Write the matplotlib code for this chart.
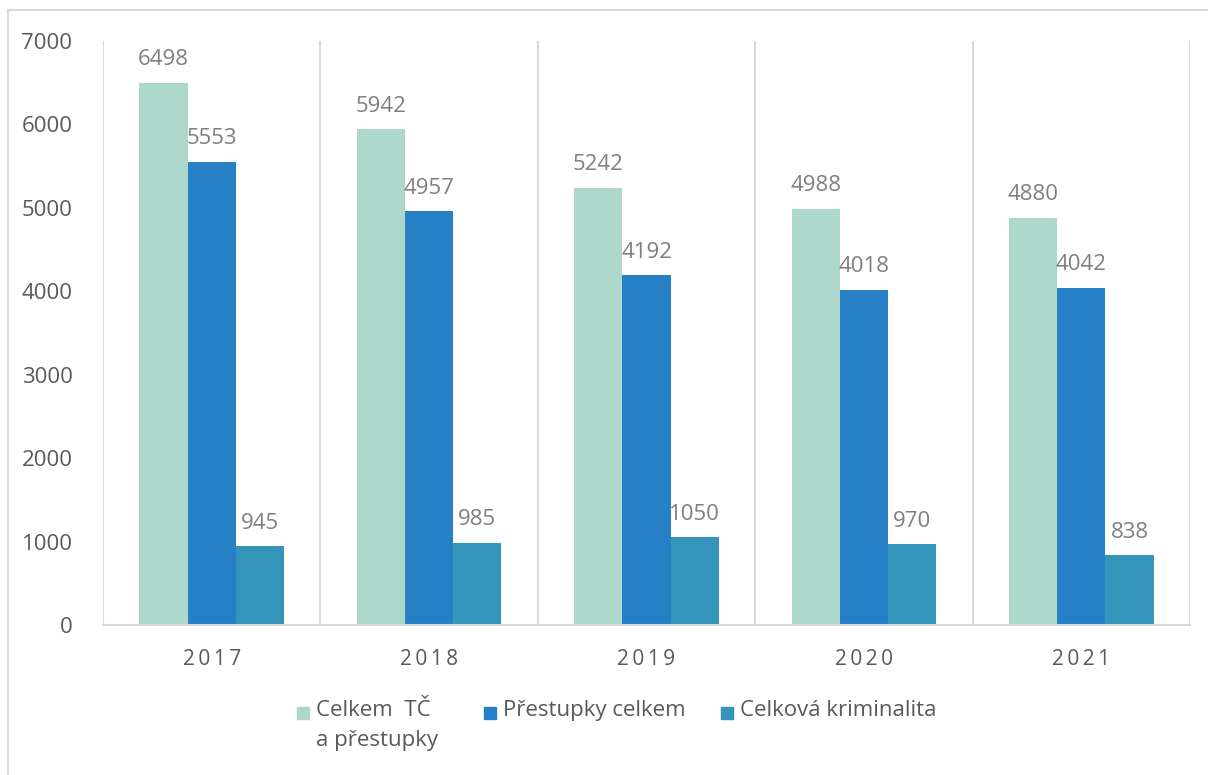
import numpy as np
import matplotlib
matplotlib.use('Agg')
from matplotlib import pyplot as plt
from matplotlib.patches import Rectangle

plt.rcParams['font.family'] = ['Open Sans', 'DejaVu Sans']

years = ['2017', '2018', '2019', '2020', '2021']
celkem_tc = [6498, 5942, 5242, 4988, 4880]
prestupky = [5553, 4957, 4192, 4018, 4042]
kriminalita = [945, 985, 1050, 970, 838]

series = [
    ('Celkem  TČ\na přestupky', celkem_tc, '#add7cb'),
    ('Přestupky celkem', prestupky, '#2780c6'),
    ('Celková kriminalita', kriminalita, '#3494ba'),
]

W, H = 1208, 775
fig = plt.figure(figsize=(W / 100, H / 100), dpi=100)
ax = fig.add_axes([103 / W, 150 / H, 1087 / W, 584 / H])

# outer frame
fig.patches.append(Rectangle((8 / W, -0.05), 1.2, 765 / H + 0.05,
                             transform=fig.transFigure, fill=False,
                             edgecolor='#d9d9d9', linewidth=1.5))

x = np.arange(len(years))
width = 0.222
for i, (label, vals, color) in enumerate(series):
    pos = x + (i - 1) * width
    ax.bar(pos, vals, width, color=color, zorder=2)
    for p, v in zip(pos, vals):
        ax.annotate(str(v), (p, v), xytext=(0, 9), textcoords='offset points',
                    ha='center', va='bottom', fontsize=16, color='#7f7f7f')

ax.set_xlim(-0.5, len(years) - 0.5)
ax.set_ylim(0, 7000)
ax.set_yticks(range(0, 7001, 1000))
ax.tick_params(axis='y', length=0, labelsize=16, labelcolor='#595959', pad=22)

ax.set_xticks(x)
ax.set_xticklabels(['\u2009'.join(y) for y in years])
ax.tick_params(axis='x', length=0, labelsize=15, labelcolor='#595959', pad=17)

# category separators
for b in np.arange(-0.5, len(years), 1.0):
    ax.axvline(b, color='#d9d9d9', linewidth=1.5, zorder=1)

for s in ['top', 'left', 'right']:
    ax.spines[s].set_visible(False)
ax.spines['bottom'].set_color('#d9d9d9')
ax.spines['bottom'].set_linewidth(1.5)

# legend drawn by hand so the marker sits on the first text line
leg_x = [297, 484, 721]
for (label, vals, color), lx in zip(series, leg_x):
    fig.patches.append(Rectangle((lx / W, 1 - 719 / H), 12 / W, 12 / H,
                                 transform=fig.transFigure, color=color))
    fig.text((lx + 19) / W, 1 - 700 / H, label, ha='left', va='top',
             fontsize=16, color='#595959', linespacing=1.55)

fig.savefig('out.png', dpi=100)
